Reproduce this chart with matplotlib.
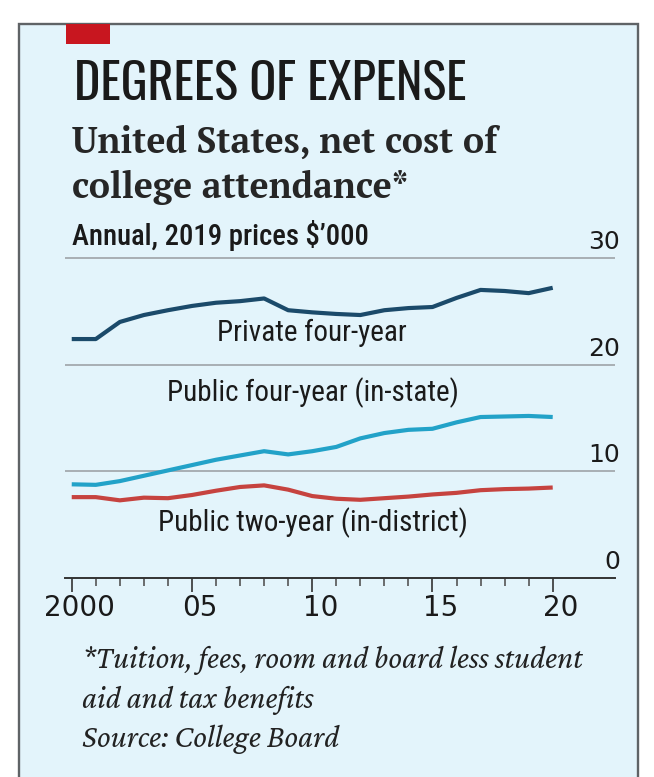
import matplotlib
matplotlib.use("Agg")
import matplotlib.pyplot as plt
import matplotlib.transforms as mtransforms
from matplotlib.patches import Rectangle

# data, $'000 at 2019 prices
years = list(range(2000, 2021))
private_4yr = [22.4, 22.4, 24.0, 24.65, 25.1, 25.5, 25.8, 25.95, 26.2, 25.1, 24.9,
               24.75, 24.65, 25.1, 25.3, 25.4, 26.25, 27.0, 26.9, 26.7, 27.2]
public_4yr = [8.8, 8.75, 9.1, 9.6, 10.1, 10.6, 11.1, 11.5, 11.9, 11.6, 11.9,
              12.3, 13.1, 13.6, 13.9, 14.0, 14.6, 15.1, 15.15, 15.2, 15.1]
public_2yr = [7.6, 7.6, 7.3, 7.55, 7.5, 7.8, 8.2, 8.55, 8.7, 8.3, 7.7,
              7.45, 7.35, 7.5, 7.65, 7.85, 8.0, 8.25, 8.35, 8.4, 8.5]
yticks = [0, 10, 20, 30]
xticks_major = [2000, 2005, 2010, 2015, 2020]
xtick_labels = ["2000", "05", "10", "15", "20"]

W, H = 654, 777
bg = "#e3f4fb"
cond = ["Roboto Condensed", "Liberation Sans Narrow", "DejaVu Sans"]
headf = ["Oswald", "Bebas Neue", "Roboto Condensed", "DejaVu Sans"]
serif = ["PT Serif", "Liberation Serif", "DejaVu Serif"]
ital = ["Crimson Pro", "Crimson Text", "Liberation Serif", "DejaVu Serif"]


def fx(x):
    return x / W


def fy(y):
    return 1 - y / H


fig = plt.figure(figsize=(W / 100, H / 100), dpi=100)
fig.patch.set_facecolor("white")

# panel and red tag
fig.patches.append(Rectangle((fx(19), -0.02), fx(638) - fx(19), fy(24) + 0.02, transform=fig.transFigure,
                             facecolor=bg, edgecolor="#5f6366", linewidth=1.7, zorder=-2))
fig.patches.append(Rectangle((fx(66), fy(44)), fx(110) - fx(66), fy(24) - fy(44),
                             transform=fig.transFigure, facecolor="#c8161f", edgecolor="none", zorder=-1))

fig.text(fx(74), fy(100), "DEGREES OF EXPENSE", family=headf, fontsize=36, weight="semibold",
         color="#1a1a1a", va="baseline")
fig.text(fx(72), fy(153), "United States, net cost of", family=serif, fontsize=25.7, weight="bold",
         color="#262626", va="baseline")
fig.text(fx(72), fy(198), "college attendance*", family=serif, fontsize=25.7, weight="bold",
         color="#262626", va="baseline")
fig.text(fx(72), fy(245), "Annual, 2019 prices $\u2019000", family=cond, fontsize=20.6, weight="medium",
         color="#1a1a1a", va="baseline")

foot = ["*Tuition, fees, room and board less student", "aid and tax benefits", "Source: College Board"]
for line, yb in zip(foot, [668, 708, 747]):
    fig.text(fx(82), fy(yb), line, family=ital, fontsize=23, style="italic", color="#222222",
             va="baseline")

# plot area
ax = fig.add_axes([fx(65), fy(578.3), fx(615) - fx(65), fy(255) - fy(578.3)])
ax.set_facecolor("none")
ax.set_xlim(1999.72, 2022.59)
ax.set_ylim(0, 30.27)

for v in yticks[1:]:
    ax.axhline(v, color="#9ea3a8", lw=1.2, zorder=1)

ax.plot(years, private_4yr, color="#1b4a6a", lw=3, solid_capstyle="butt", zorder=3)
ax.plot(years, public_4yr, color="#22a2c8", lw=3, solid_capstyle="butt", zorder=3)
ax.plot(years, public_2yr, color="#c6433f", lw=3, solid_capstyle="butt", zorder=3)

for s in ["top", "right", "left"]:
    ax.spines[s].set_visible(False)
ax.spines["bottom"].set_color("#333333")
ax.spines["bottom"].set_linewidth(1.4)

ax.set_yticks([])
ax.set_xticks(xticks_major)
ax.set_xticklabels(xtick_labels)
ax.set_xticks(years, minor=True)
ax.tick_params(axis="x", which="major", length=10, width=1.2, color="#333333", pad=1,
               labelsize=20, labelcolor="#1a1a1a")
ax.tick_params(axis="x", which="minor", length=6, width=1.2, color="#555555")
# labels sit a little right of their ticks
shift = mtransforms.ScaledTranslation(8 / 100, 0, fig.dpi_scale_trans)
for tick in ax.xaxis.get_major_ticks():
    tick.label1.set_family(["DejaVu Sans"])
    tick.label1.set_transform(tick.label1.get_transform() + shift)

# y labels sit above the gridlines at the right
ytr = mtransforms.offset_copy(ax.get_yaxis_transform(), fig=fig, x=0, y=4, units="dots")
for v in yticks:
    ax.text(1.009, v, str(v), transform=ytr, ha="right", va="bottom", fontsize=18,
            family=["DejaVu Sans"], color="#1a1a1a", clip_on=False)

# series labels
ax.text(2010.0, 22.97, "Private four-year", family=cond, fontsize=21, ha="center", va="center",
        color="#1a1a1a")
ax.text(2010.05, 17.35, "Public four-year (in-state)", family=cond, fontsize=21, ha="center",
        va="center", color="#1a1a1a")
ax.text(2010.05, 5.18, "Public two-year (in-district)", family=cond, fontsize=21, ha="center",
        va="center", color="#1a1a1a")

fig.savefig("out.png", dpi=100, facecolor=fig.get_facecolor())
